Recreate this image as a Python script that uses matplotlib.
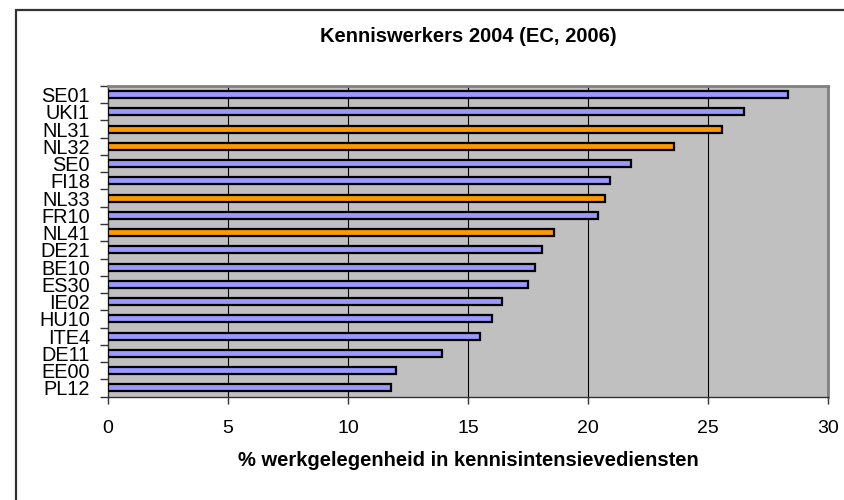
import matplotlib
matplotlib.use("Agg")
import matplotlib.pyplot as plt
from matplotlib.patches import Rectangle
import numpy as np

plt.rcParams['font.family'] = ['Liberation Sans', 'DejaVu Sans']

regions = ["SE01", "UKI1", "NL31", "NL32", "SE0", "FI18", "NL33", "FR10", "NL41",
           "DE21", "BE10", "ES30", "IE02", "HU10", "ITE4", "DE11", "EE00", "PL12"]
values = [28.35, 26.5, 25.6, 23.6, 21.8, 20.9, 20.7, 20.4, 18.6,
          18.1, 17.8, 17.5, 16.4, 16.0, 15.5, 13.9, 12.0, 11.8]
highlight = ["NL31", "NL32", "NL33", "NL41"]
xticks = [0, 5, 10, 15, 20, 25, 30]

title = "Kenniswerkers 2004 (EC, 2006)"
xlabel = "% werkgelegenheid in kennisintensievediensten"

W, H = 845, 500
fig = plt.figure(figsize=(W / 100, H / 100), dpi=100)
fig.patch.set_facecolor("white")

# outer chart frame (extends past right/bottom edge)
fig.add_artist(Rectangle((16 / W, -0.2), 1.2, 1 - 9.5 / H + 0.2, transform=fig.transFigure,
                         fill=False, ec="#333333", lw=1.6))

left, right = 108 / W, 828 / W
bottom, top = 1 - 396.5 / H, 1 - 86 / H
ax = fig.add_axes([left, bottom, right - left, top - bottom])
ax.set_facecolor("#C0C0C0")

n = len(regions)
pos = np.arange(n)
colors = ["#FF9900" if r in highlight else "#9999FF" for r in regions]
ax.barh(pos, values, height=0.42, color=colors, edgecolor="black", linewidth=1.6, zorder=3)

ax.set_xlim(0, 30)
ax.set_ylim(n - 0.5, -0.5)

ax.set_xticks(xticks)
ax.set_xticklabels([str(t) for t in xticks], fontsize=14)
ax.tick_params(axis="x", direction="out", length=5, width=1, pad=12, color="#333333")
for t in xticks[1:-1]:
    ax.axvline(t, color="black", lw=0.8, zorder=1)

ax.set_yticks(pos)
ax.set_yticklabels(regions, fontsize=14.3)
ax.tick_params(axis="y", which="major", length=0, pad=13)
ax.set_yticks(np.arange(n + 1) - 0.5, minor=True)
ax.tick_params(axis="y", which="minor", direction="out", length=6, width=1, color="#333333")

for s in ["top", "right"]:
    ax.spines[s].set_color("#808080")
    ax.spines[s].set_linewidth(2)
for s in ["left", "bottom"]:
    ax.spines[s].set_color("#333333")
    ax.spines[s].set_linewidth(1)

cx = (left + right) / 2
fig.text(cx, 1 - 36 / H, title, ha="center", va="center", fontsize=14.5, fontweight="bold")
fig.text(cx, 1 - 461 / H, xlabel, ha="center", va="center", fontsize=14.5, fontweight="bold")

fig.savefig("out.png", dpi=100)
